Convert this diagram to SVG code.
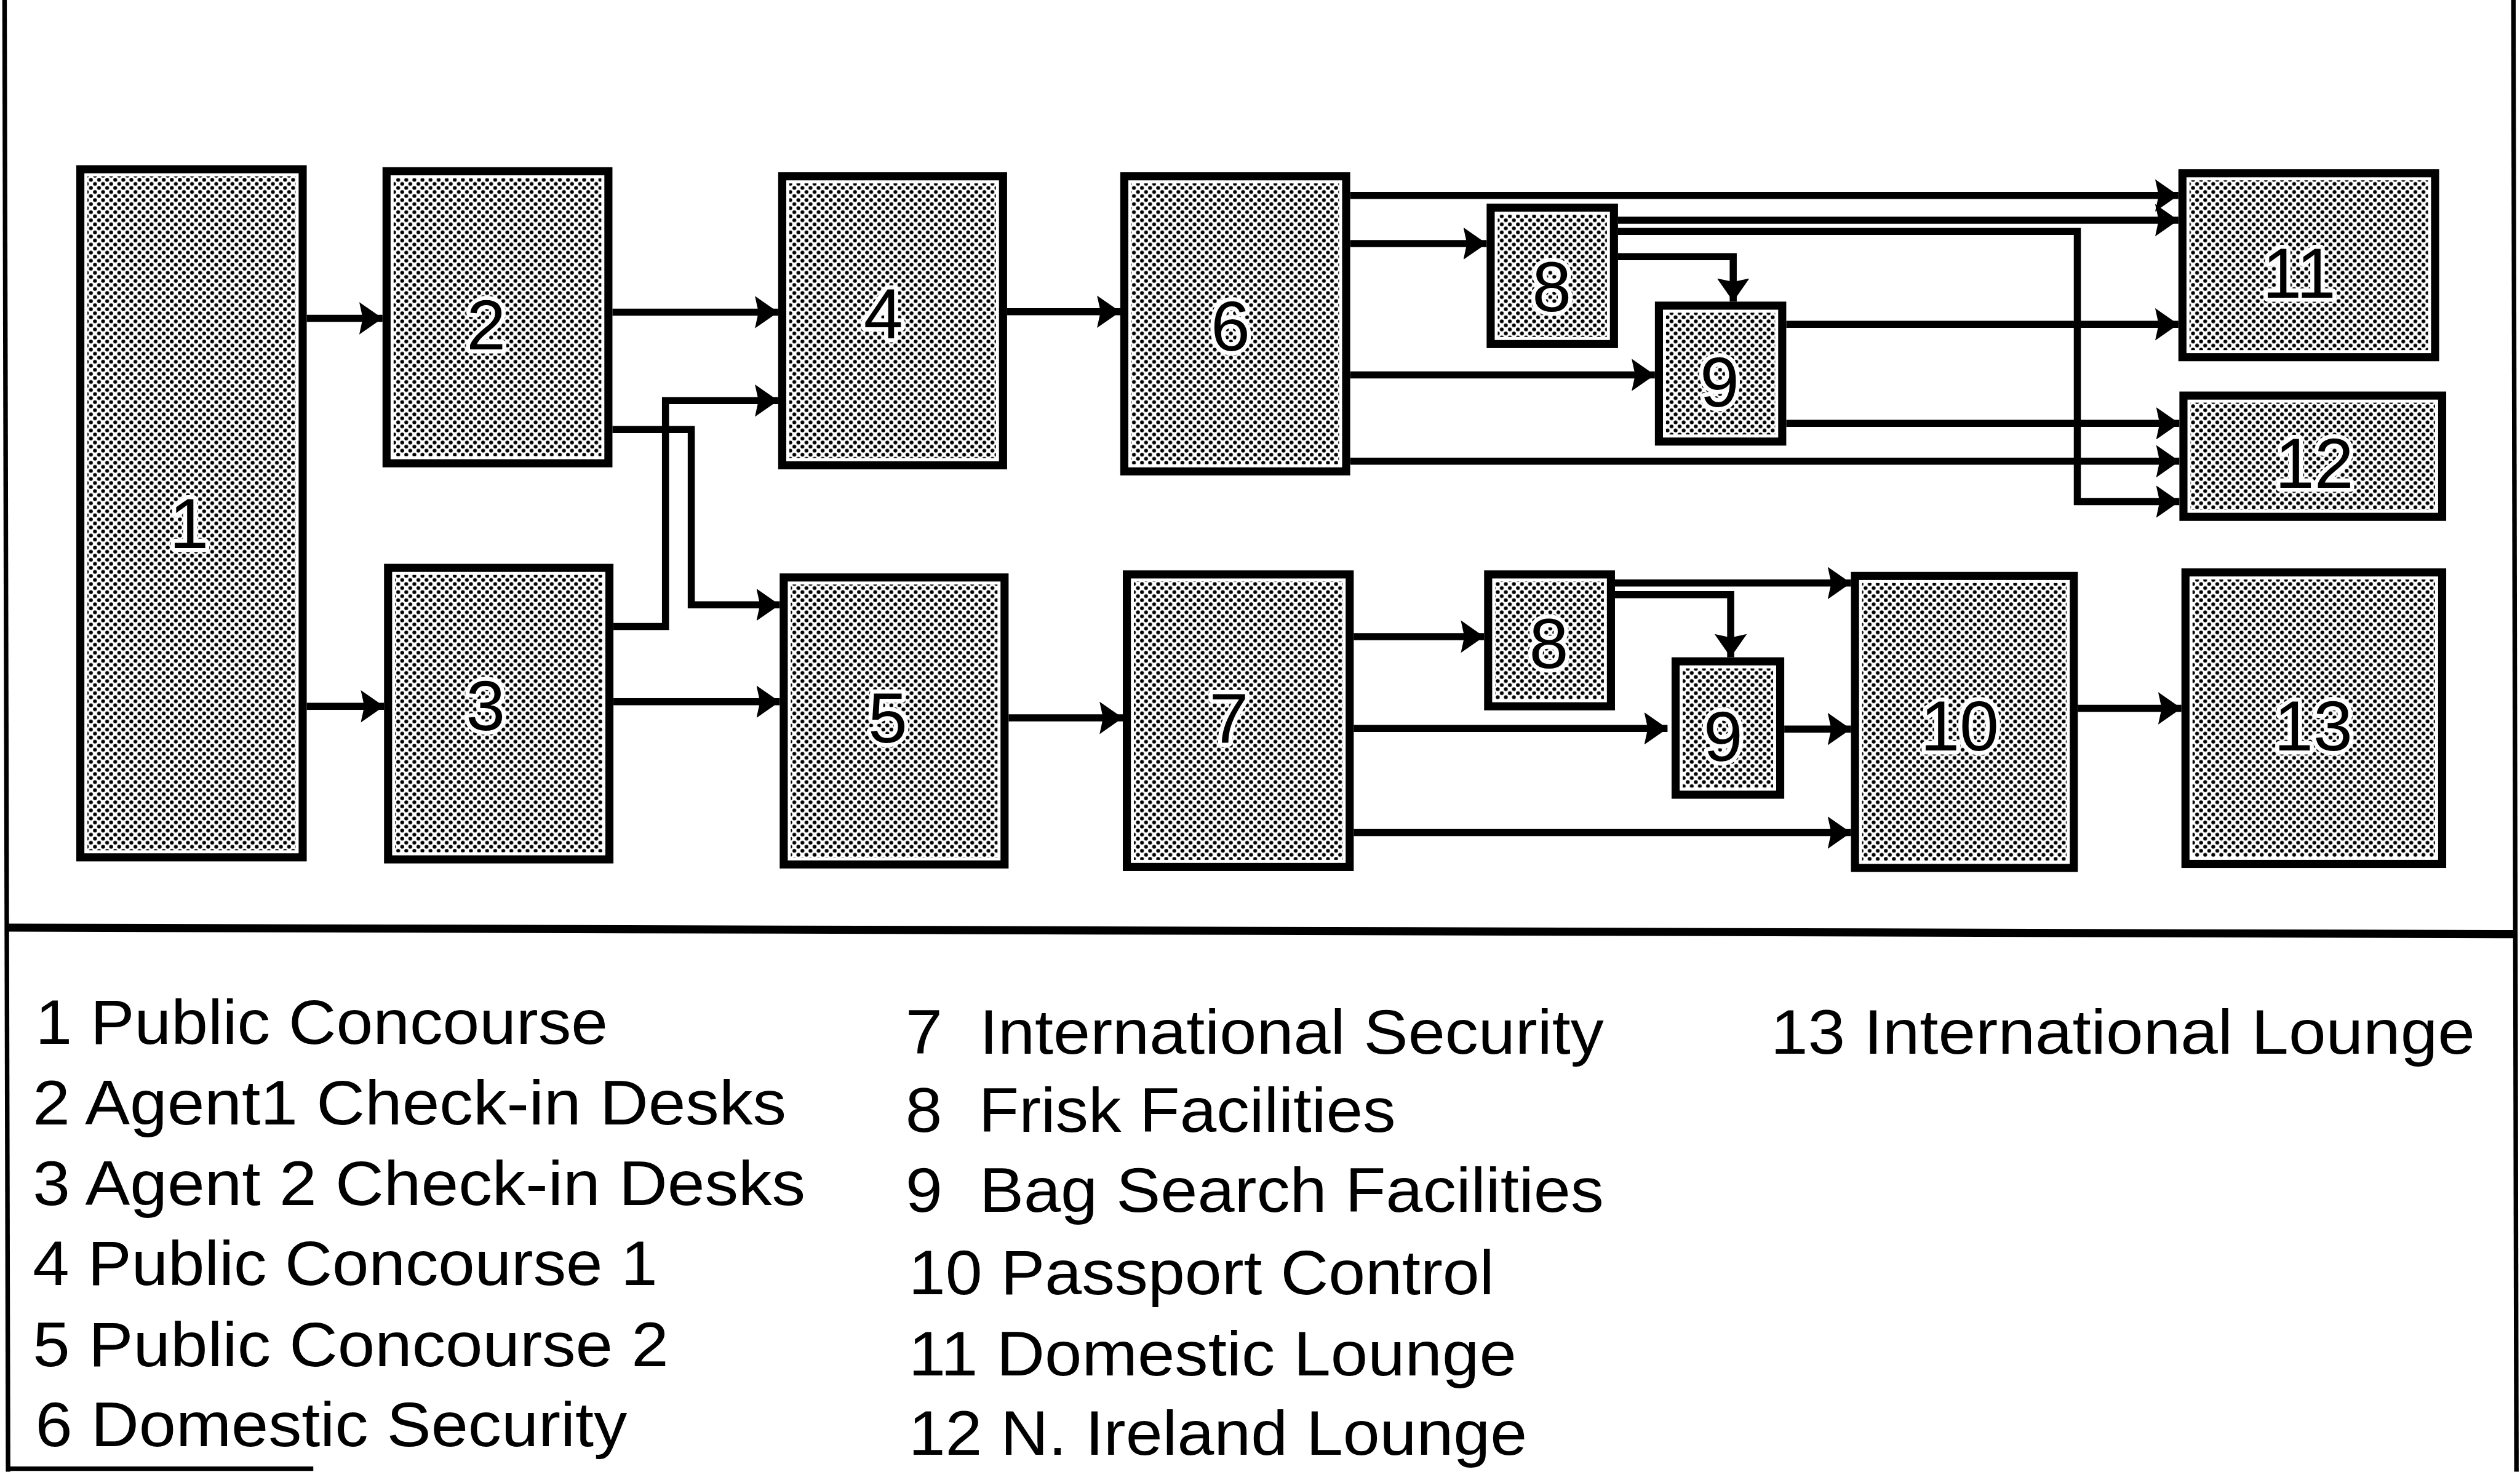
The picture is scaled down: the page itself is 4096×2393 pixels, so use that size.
<svg xmlns="http://www.w3.org/2000/svg" width="4096" height="2393" viewBox="0 0 4096 2393">
<defs>
<pattern id="dots" patternUnits="userSpaceOnUse" width="16" height="16">
<rect width="16" height="16" fill="#fff"/>
<circle cx="4" cy="4" r="3.8" fill="#000"/>
<circle cx="12" cy="12" r="3.8" fill="#000"/>
</pattern>
<marker id="ah" markerUnits="userSpaceOnUse" markerWidth="48" markerHeight="70" viewBox="0 0 48 70" refX="46" refY="35" orient="auto">
<path d="M0,3 L46,35 L0,67 L7,35 Z" fill="#000"/>
</marker>
<style>
.box{fill:#fff;stroke:#000;stroke-width:16}
.fill{fill:url(#dots)}
.num{font-family:"Liberation Sans",Arial,sans-serif;font-size:140px;text-anchor:middle;fill:#000;stroke:#fff;stroke-width:16px;stroke-linejoin:round;paint-order:stroke}
.leg{font-family:"Liberation Sans",Arial,sans-serif;font-size:125px;fill:#000;white-space:pre}
.con{fill:none;stroke:#000;stroke-width:14;marker-end:url(#ah)}
.frame{fill:none;stroke:#000}
</style>
</defs>
<rect width="4096" height="2393" fill="#fff"/>
<g transform="scale(0.82133)">
<g id="frame">
<line class="frame" x1="9" y1="0" x2="16" y2="2913" stroke-width="9"/>
<line class="frame" x1="4974" y1="0" x2="4980" y2="2913" stroke-width="9"/>
<line class="frame" x1="11" y1="1836" x2="4980" y2="1849" stroke-width="16"/>
<line class="frame" x1="16" y1="2907" x2="620" y2="2907" stroke-width="9"/>
</g>
<g id="node-1"><rect class="box" x="159" y="335" width="440" height="1362"/><rect class="fill" x="173" y="349" width="412" height="1334"/><text class="num" x="374" y="1085">1</text></g>
<g id="node-2"><rect class="box" x="765" y="339" width="439" height="578"/><rect class="fill" x="779" y="353" width="411" height="550"/><text class="num" x="962" y="692">2</text></g>
<g id="node-3"><rect class="box" x="768" y="1124" width="438" height="577"/><rect class="fill" x="782" y="1138" width="410" height="549"/><text class="num" x="961" y="1445">3</text></g>
<g id="node-4"><rect class="box" x="1548" y="349" width="437" height="572"/><rect class="fill" x="1562" y="363" width="409" height="544"/><text class="num" x="1748" y="670">4</text></g>
<g id="node-5"><rect class="box" x="1551" y="1143" width="437" height="568"/><rect class="fill" x="1565" y="1157" width="409" height="540"/><text class="num" x="1757" y="1470">5</text></g>
<g id="node-6"><rect class="box" x="2225" y="349" width="439" height="584"/><rect class="fill" x="2239" y="363" width="411" height="556"/><text class="num" x="2435" y="694">6</text></g>
<g id="node-7"><rect class="box" x="2230" y="1137" width="441" height="579"/><rect class="fill" x="2244" y="1151" width="413" height="551"/><text class="num" x="2432" y="1471">7</text></g>
<g id="node-8a"><rect class="box" x="2950" y="411" width="244" height="270"/><rect class="fill" x="2964" y="425" width="216" height="242"/><text class="num" x="3071" y="616">8</text></g>
<g id="node-9a"><rect class="box" x="3283" y="605" width="244" height="269"/><rect class="fill" x="3297" y="619" width="216" height="241"/><text class="num" x="3403" y="805">9</text></g>
<g id="node-8b"><rect class="box" x="2945" y="1137" width="243" height="261"/><rect class="fill" x="2959" y="1151" width="215" height="233"/><text class="num" x="3065" y="1322">8</text></g>
<g id="node-9b"><rect class="box" x="3316" y="1309" width="207" height="264"/><rect class="fill" x="3330" y="1323" width="179" height="236"/><text class="num" x="3410" y="1506">9</text></g>
<g id="node-10"><rect class="box" x="3671" y="1140" width="433" height="578"/><rect class="fill" x="3685" y="1154" width="405" height="550"/><text class="num" x="3878" y="1485">10</text></g>
<g id="node-11"><rect class="box" x="4319" y="343" width="500" height="364"/><rect class="fill" x="4333" y="357" width="472" height="336"/><text class="num" x="4550" y="589">11</text></g>
<g id="node-12"><rect class="box" x="4321" y="783" width="512" height="240"/><rect class="fill" x="4335" y="797" width="484" height="212"/><text class="num" x="4580" y="966">12</text></g>
<g id="node-13"><rect class="box" x="4325" y="1133" width="508" height="577"/><rect class="fill" x="4339" y="1147" width="480" height="549"/><text class="num" x="4578" y="1485">13</text></g>
<g id="connectors">
<path class="con" d="M607,630 H757"/>
<path class="con" d="M607,1398 H760"/>
<path class="con" d="M1212,618 H1540"/>
<path class="con" d="M1212,850 H1368 V1197 H1543"/>
<path class="con" d="M1214,1240 H1317 V793 H1540"/>
<path class="con" d="M1214,1389 H1543"/>
<path class="con" d="M1993,617 H2217"/>
<path class="con" d="M1996,1421 H2222"/>
<path class="con" d="M2672,387 H4311"/>
<path class="con" d="M2672,482 H2942"/>
<path class="con" d="M2672,742 H3275"/>
<path class="con" d="M2672,913 H4313"/>
<path class="con" d="M3202,436 H4311"/>
<path class="con" d="M3202,458 H4111 V993 H4313"/>
<path class="con" d="M3202,508 H3430 V597"/>
<path class="con" d="M3535,642 H4311"/>
<path class="con" d="M3535,838 H4313"/>
<path class="con" d="M2679,1260 H2937"/>
<path class="con" d="M2679,1442 H3300"/>
<path class="con" d="M2679,1648 H3663"/>
<path class="con" d="M3196,1154 H3663"/>
<path class="con" d="M3196,1177 H3425 V1301"/>
<path class="con" d="M3531,1443 H3663"/>
<path class="con" d="M4112,1402 H4317"/>
</g>
<g id="legend">
<text class="leg" x="70" y="2066" textLength="1133" lengthAdjust="spacingAndGlyphs">1 Public Concourse</text>
<text class="leg" x="65" y="2226" textLength="1491" lengthAdjust="spacingAndGlyphs">2 Agent1 Check-in Desks</text>
<text class="leg" x="65" y="2385" textLength="1529" lengthAdjust="spacingAndGlyphs">3 Agent 2 Check-in Desks</text>
<text class="leg" x="65" y="2544" textLength="1236" lengthAdjust="spacingAndGlyphs">4 Public Concourse 1</text>
<text class="leg" x="65" y="2704" textLength="1258" lengthAdjust="spacingAndGlyphs">5 Public Concourse 2</text>
<text class="leg" x="70" y="2863" textLength="1171" lengthAdjust="spacingAndGlyphs">6 Domestic Security</text>
<text class="leg" x="1792" y="2086" textLength="1382" lengthAdjust="spacingAndGlyphs">7  International Security</text>
<text class="leg" x="1792" y="2240" textLength="970" lengthAdjust="spacingAndGlyphs">8  Frisk Facilities</text>
<text class="leg" x="1792" y="2398" textLength="1382" lengthAdjust="spacingAndGlyphs">9  Bag Search Facilities</text>
<text class="leg" x="1798" y="2562" textLength="1159" lengthAdjust="spacingAndGlyphs">10 Passport Control</text>
<text class="leg" x="1798" y="2722" textLength="1203" lengthAdjust="spacingAndGlyphs">11 Domestic Lounge</text>
<text class="leg" x="1798" y="2880" textLength="1224" lengthAdjust="spacingAndGlyphs">12 N. Ireland Lounge</text>
<text class="leg" x="3504" y="2086" textLength="1394" lengthAdjust="spacingAndGlyphs">13 International Lounge</text>
</g>
</g>
</svg>
